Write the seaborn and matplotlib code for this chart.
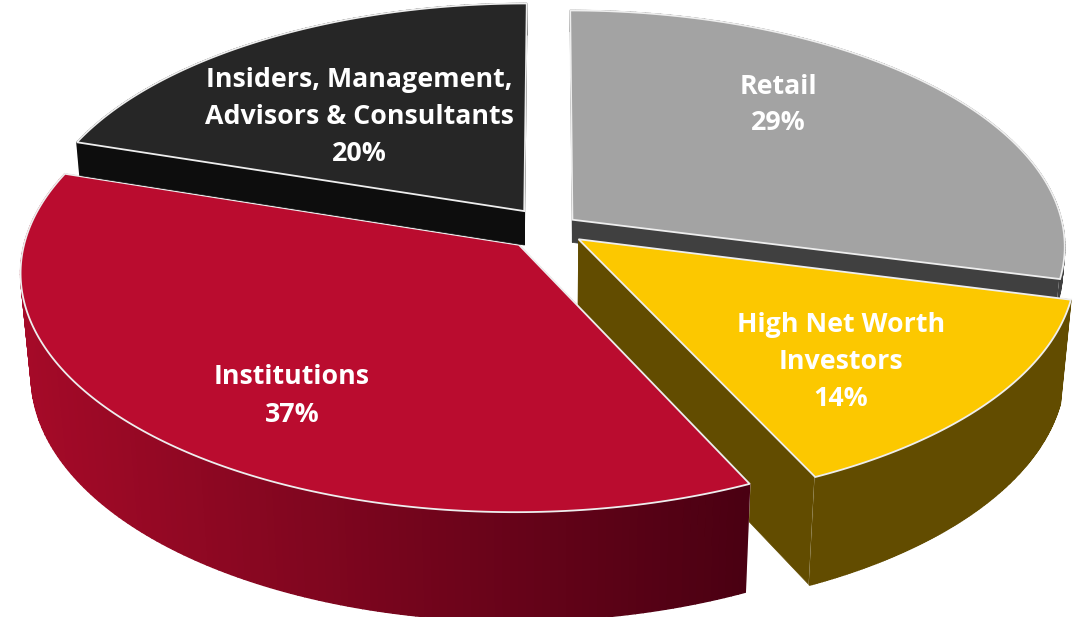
import numpy as np
import matplotlib
matplotlib.use("Agg")
import matplotlib.pyplot as plt
import seaborn as sns

sns.set_theme(style="white")
plt.rcParams["font.family"] = ["Open Sans", "DejaVu Sans"]

# values, clockwise from 12 o'clock
labels = ["Retail", "High Net Worth\nInvestors", "Institutions",
          "Insiders, Management,\nAdvisors & Consultants"]
shares = [29, 14, 37, 20]

top_colors = ["#a3a3a3", "#fcc800", "#ba0c2f", "#262626"]
face_colors = ["#404040", "#624c00", "#4a0012", "#0d0d0d"]
side_right = ["#404040", "#624c00", "#4a0012", "#0d0d0d"]
side_left = ["#404040", "#624c00", "#a50a28", "#0d0d0d"]
explode = [0.058, 0.075, 0.095, 0.09]
depths = [0.22, 1.0, 1.0, 0.33]
draw_order = [3, 0, 2, 1]
label_pos = [(778, 105), (841, 362), (292, 396), (359, 117)]

# projection settings, in pixels
cx, cy = 550, 228
rx, ry = 491, 234
thick = 104
k_y, k_z = 0.11, 0.02


def project(X, Y, z):
    w = 1 - k_y * Y + k_z * z
    return cx + rx * X / w, cy + (ry * Y + thick * z) / w


def rim(theta, off):
    t = np.radians(theta)
    return off[0] + np.sin(t), off[1] - np.cos(t)


fig = plt.figure(figsize=(10.81, 6.17), dpi=100)
ax = fig.add_axes([0, 0, 1, 1])
ax.set_xlim(0, 1081)
ax.set_ylim(617, 0)
ax.axis("off")

ends = np.cumsum(shares) / np.sum(shares) * 360
starts = ends - np.array(shares) / np.sum(shares) * 360

for i in draw_order:
    a0, a1 = starts[i], ends[i]
    mid = np.radians((a0 + a1) / 2)
    off = (explode[i] * np.sin(mid), -explode[i] * np.cos(mid))
    d = depths[i]

    # cut faces
    for a in [a0, a1]:
        X, Y = rim(a, off)
        p = [project(off[0], off[1], 0), project(X, Y, 0), project(X, Y, d), project(off[0], off[1], d)]
        ax.fill(*zip(*p), color=face_colors[i], lw=0.5, zorder=i)
        ax.plot(*zip(p[1], p[2]), color="#eeeeee", lw=1.2, zorder=i)

    # outer wall, shaded left to right
    steps = 160
    thetas = np.linspace(a0, a1, steps + 1)
    pal = sns.blend_palette([side_left[i], side_right[i]], 256)
    wall_x = project(*rim(thetas, off), 0)[0]
    for j in range(steps):
        Xa, Ya = rim(thetas[j], off)
        Xb, Yb = rim(thetas[j + 1], off)
        p = [project(Xa, Ya, 0), project(Xb, Yb, 0), project(Xb, Yb, d), project(Xa, Ya, d)]
        frac = (wall_x[j] - wall_x.min()) / (wall_x.max() - wall_x.min())
        ax.fill(*zip(*p), color=pal[int(frac * 255)], lw=1.0, zorder=i)

    # top
    X, Y = rim(thetas, off)
    px, py = project(X, Y, 0)
    ox, oy = project(off[0], off[1], 0)
    ax.fill(np.r_[ox, px], np.r_[oy, py], facecolor=top_colors[i], edgecolor="#eeeeee",
            lw=1.3, joinstyle="miter", zorder=i)

    ax.text(label_pos[i][0], label_pos[i][1], f"{labels[i]}\n{shares[i]}%", color="white",
            fontsize=19.3, fontweight="bold", ha="center", va="center", linespacing=1.55, zorder=10)

plt.savefig("out.png", dpi=100)
